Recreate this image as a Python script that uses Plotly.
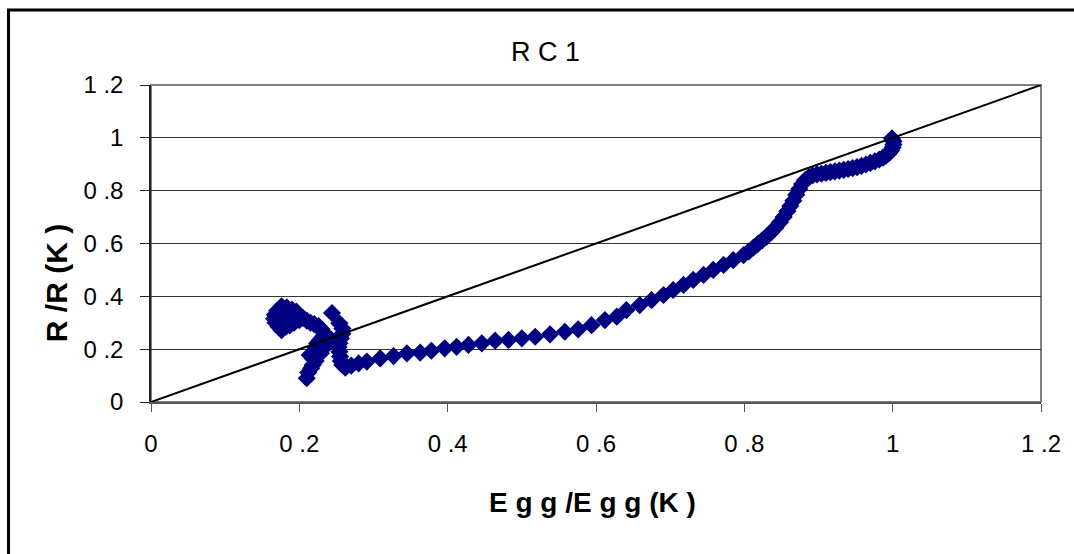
import plotly.graph_objects as go

# ---- data ----
loop_x = [0.176, 0.183, 0.190, 0.196, 0.170, 0.167, 0.166, 0.168, 0.172, 0.176,
          0.182, 0.187, 0.193, 0.200, 0.205, 0.210, 0.215, 0.220, 0.226, 0.230,
          0.233, 0.232, 0.228, 0.224, 0.222, 0.221, 0.223, 0.222, 0.218, 0.216,
          0.212, 0.210, 0.214, 0.223, 0.237, 0.235, 0.243, 0.244, 0.254, 0.258,
          0.258, 0.256, 0.254, 0.253, 0.254, 0.255, 0.256, 0.258, 0.262, 0.270,
          0.280, 0.186, 0.176, 0.193, 0.229, 0.218]
loop_y = [0.362, 0.358, 0.350, 0.342, 0.345, 0.330, 0.315, 0.300, 0.285, 0.272,
          0.285, 0.290, 0.300, 0.310, 0.318, 0.308, 0.300, 0.295, 0.287, 0.275,
          0.262, 0.248, 0.235, 0.222, 0.205, 0.190, 0.172, 0.155, 0.140, 0.128,
          0.112, 0.090, 0.178, 0.203, 0.216, 0.241, 0.235, 0.337, 0.298, 0.278,
          0.258, 0.240, 0.222, 0.208, 0.190, 0.172, 0.155, 0.140, 0.130, 0.138,
          0.146, 0.306, 0.338, 0.332, 0.185, 0.165]

mid_x = [0.291, 0.309, 0.327, 0.345, 0.363, 0.378, 0.396, 0.412, 0.428, 0.446,
         0.464, 0.482, 0.500, 0.518, 0.538, 0.558, 0.576, 0.594, 0.612, 0.628,
         0.641, 0.659, 0.675, 0.691, 0.704, 0.718, 0.731, 0.745, 0.758, 0.772,
         0.785, 0.799]
mid_y = [0.153, 0.165, 0.174, 0.184, 0.187, 0.194, 0.203, 0.209, 0.216, 0.222,
         0.232, 0.235, 0.241, 0.247, 0.256, 0.266, 0.275, 0.291, 0.310, 0.323,
         0.348, 0.367, 0.386, 0.405, 0.424, 0.443, 0.462, 0.481, 0.500, 0.519,
         0.537, 0.556]

top_x = [0.806, 0.812, 0.818, 0.824, 0.830, 0.836, 0.842, 0.848, 0.853, 0.858,
         0.862, 0.866, 0.870, 0.874, 0.878, 0.882, 0.887, 0.892, 0.898, 0.904,
         0.910, 0.916, 0.922, 0.928, 0.934, 0.940, 0.946, 0.952, 0.958, 0.964,
         0.970, 0.976, 0.982, 0.987, 0.991, 0.995, 0.998, 1.000, 1.001, 1.001,
         0.999]
top_y = [0.570, 0.584, 0.598, 0.612, 0.626, 0.642, 0.660, 0.680, 0.700, 0.722,
         0.742, 0.762, 0.785, 0.806, 0.825, 0.840, 0.851, 0.858, 0.862, 0.864,
         0.867, 0.870, 0.873, 0.876, 0.879, 0.882, 0.885, 0.889, 0.894, 0.899,
         0.905, 0.911, 0.918, 0.925, 0.933, 0.942, 0.952, 0.963, 0.975, 0.987,
         0.998]

diag_x = [0, 1.2]
diag_y = [0, 1.2]

tick_vals = [0, 0.2, 0.4, 0.6, 0.8, 1.0, 1.2]
tick_text = ["0", "0 .2", "0 .4", "0 .6", "0 .8", "1", "1 .2"]

title_text = "R C 1"
x_title = "E g g /E g g (K )"
y_title = "R /R (K )"

# ---- figure ----
FONT = "Liberation Sans Narrow, Arial Narrow, Liberation Sans, Arial, sans-serif"

fig = go.Figure()
fig.add_trace(go.Scatter(
    x=loop_x + mid_x + top_x, y=loop_y + mid_y + top_y,
    mode="markers",
    marker=dict(symbol="diamond", size=14, color="#000080", line=dict(width=0)),
    showlegend=False, hoverinfo="skip"))
fig.add_trace(go.Scatter(
    x=diag_x, y=diag_y, mode="lines",
    line=dict(color="black", width=2),
    showlegend=False, hoverinfo="skip"))

axis_common = dict(
    range=[0, 1.2], tickmode="array", tickvals=tick_vals, ticktext=tick_text,
    tickfont=dict(family=FONT, size=24, color="black"),
    zeroline=False, showline=True, ticks="outside", fixedrange=True,
)

fig.update_xaxes(**axis_common, showgrid=False, linecolor="#555555", linewidth=2,
                 ticklen=8, tickcolor="#555555", tickwidth=1, ticklabelstandoff=11)
fig.update_yaxes(**axis_common, showgrid=True, gridcolor="#333333", gridwidth=1,
                 linecolor="#222222", linewidth=1.5, ticklen=9, tickcolor="#222222",
                 tickwidth=1, ticklabelstandoff=12)

fig.update_layout(
    width=1074, height=554,
    margin=dict(l=151, r=33, t=85, b=152),
    paper_bgcolor="white", plot_bgcolor="white",
    shapes=[
        dict(type="rect", xref="paper", yref="paper", x0=0, x1=1, y0=0, y1=1,
             line=dict(color="#808080", width=2), layer="below"),
        dict(type="rect", xref="paper", yref="paper", x0=-0.1601, x1=1.1,
             y0=-0.6, y1=1.2366, line=dict(color="black", width=3)),
    ],
    annotations=[
        dict(text=title_text, xref="paper", yref="paper", x=0.443, y=1.104,
             showarrow=False, xanchor="center", yanchor="middle",
             font=dict(family=FONT, size=27, color="black")),
        dict(text="<b>" + x_title + "</b>", xref="paper", yref="paper",
             x=0.4966, y=-0.318, showarrow=False, xanchor="center", yanchor="middle",
             font=dict(family=FONT, size=28, color="black")),
        dict(text="<b>" + y_title + "</b>", xref="paper", yref="paper",
             x=-0.1067, y=0.375, showarrow=False, xanchor="center", yanchor="middle",
             textangle=-90, font=dict(family=FONT, size=30, color="black")),
    ],
)

fig.write_html("out.html")
